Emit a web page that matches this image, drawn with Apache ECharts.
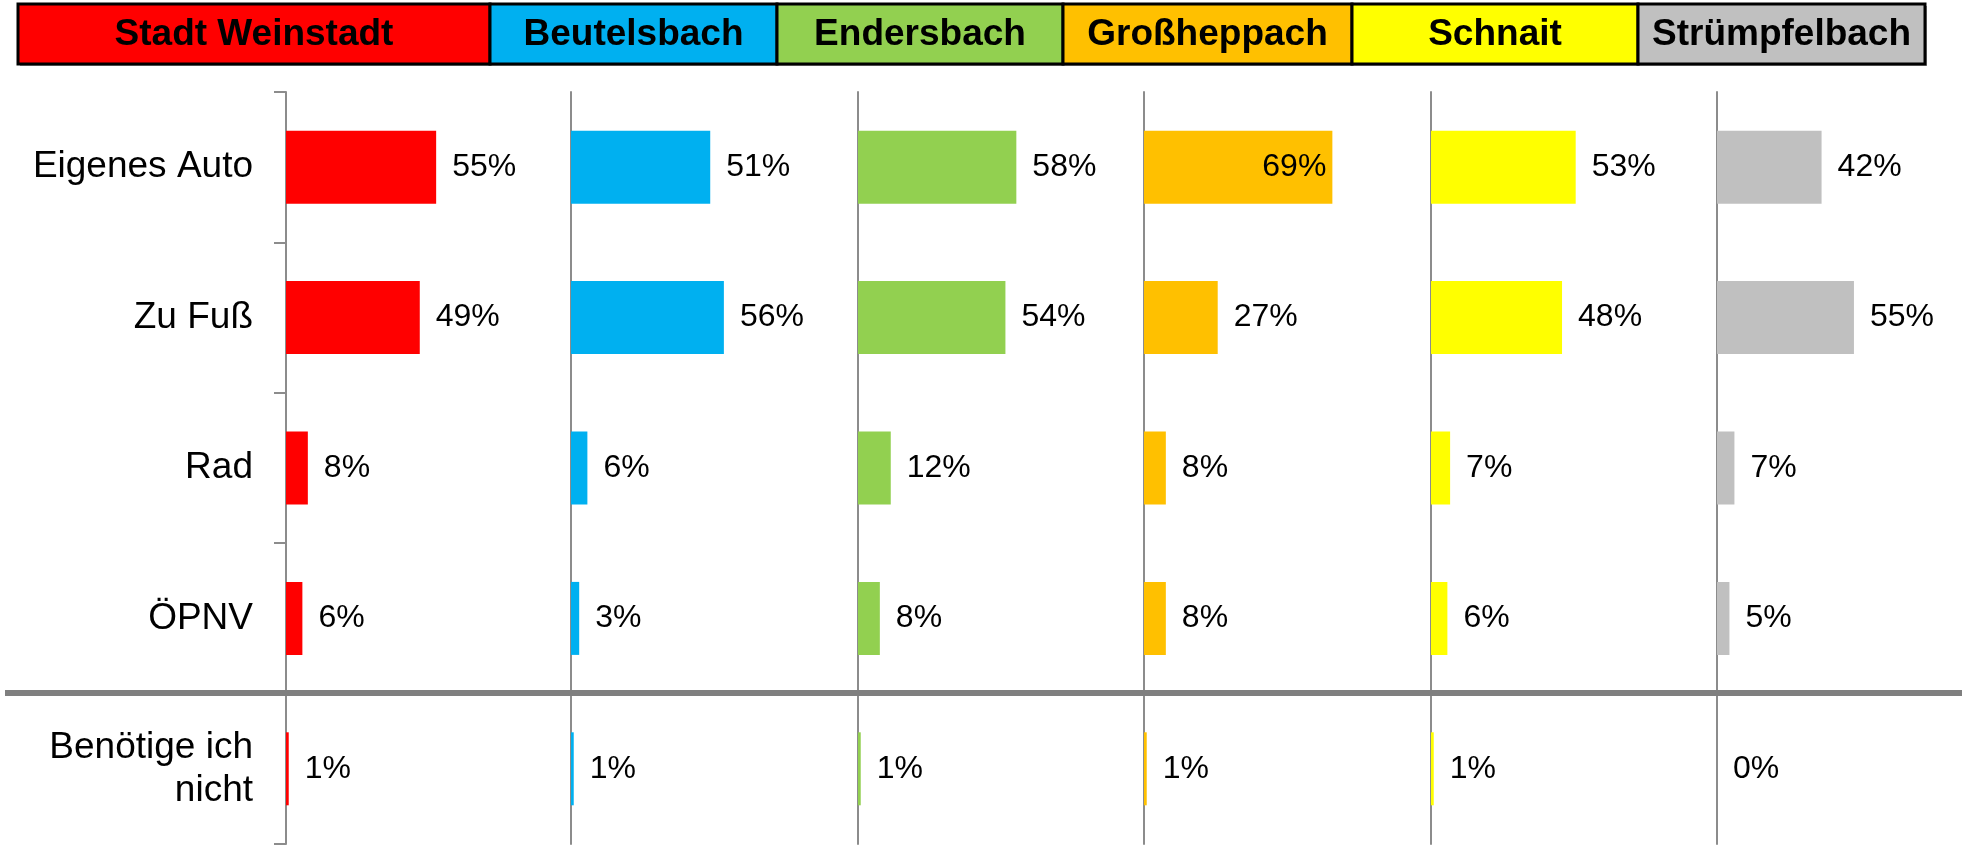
<!DOCTYPE html>
<html>
<head>
<meta charset="utf-8">
<title>Verkehrsmittel nach Ortsteil</title>
<script src="https://cdn.jsdelivr.net/npm/echarts@6/dist/echarts.min.js"></script>
<style>
    html, body { margin: 0; padding: 0; background: #fff; }
    #chart { width: 1966px; height: 847px; }
</style>
</head>
<body>
<div id="chart"></div>
<script>
// categories, top to bottom
const modes = ['Eigenes Auto', 'Zu Fuß', 'Rad', 'ÖPNV', 'Benötige ich\nnicht'];

// one panel per district
const districts = ['Stadt Weinstadt', 'Beutelsbach', 'Endersbach', 'Großheppach', 'Schnait', 'Strümpfelbach'];
const colors = ['#FF0000', '#00B0F0', '#92D050', '#FFC000', '#FFFF00', '#C0C0C0'];

const weinstadt = [55, 49, 8, 6, 1];
const beutelsbach = [51, 56, 6, 3, 1];
const endersbach = [58, 54, 12, 8, 1];
const grossheppach = [69, 27, 8, 8, 1];
const schnait = [53, 48, 7, 6, 1];
const struempfelbach = [42, 55, 7, 5, 0];

const values = [weinstadt, beutelsbach, endersbach, grossheppach, schnait, struempfelbach];

const FONT = '"Liberation Sans", Arial, sans-serif';
const axisGray = '#8c8c8c';

// layout
const panelLeft = [286, 571, 858, 1144, 1431, 1717];
const panelWidth = 273;
const plotTop = 92;
const plotHeight = 752;
const headerEdges = [18, 490, 777, 1063, 1352, 1638, 1925];
const headerTop = 4, headerHeight = 60;

const chart = echarts.init(document.getElementById('chart'));

const grids = [], xAxes = [], yAxes = [], series = [];
districts.forEach(function (name, i) {
    grids.push({ left: panelLeft[i], top: plotTop, width: panelWidth, height: plotHeight });
    xAxes.push({
        type: 'value', gridIndex: i, min: 0, max: 100, show: false
    });
    yAxes.push({
        type: 'category', gridIndex: i, data: modes, inverse: true,
        axisLine: { show: true, lineStyle: { color: axisGray, width: 2 } },
        axisTick: { show: i === 0, length: 12, lineStyle: { color: axisGray, width: 2 } },
        axisLabel: {
            show: i === 0, margin: 33, color: '#000', fontSize: 37,
            fontFamily: FONT, lineHeight: 43, align: 'right'
        },
        splitLine: { show: false }
    });
    series.push({
        type: 'bar', name: name, xAxisIndex: i, yAxisIndex: i,
        barWidth: 73,
        itemStyle: { color: colors[i] },
        label: {
            show: true, position: 'right', distance: 16, color: '#000',
            fontSize: 32, fontFamily: FONT, formatter: '{c}%'
        },
        data: values[i].map(function (v) {
            if (v >= 65) {
                return { value: v, label: { position: 'insideRight', distance: 6 } };
            }
            return v;
        })
    });
});

// header boxes with district names
const graphics = [];
districts.forEach(function (name, i) {
    const x0 = headerEdges[i], x1 = headerEdges[i + 1];
    graphics.push({
        type: 'rect', z: 1,
        shape: { x: x0 + 2, y: headerTop + 2, width: x1 - x0, height: headerHeight },
        style: { fill: '#9a9a9a' }
    });
    graphics.push({
        type: 'rect', z: 2,
        shape: { x: x0, y: headerTop, width: x1 - x0, height: headerHeight },
        style: { fill: colors[i], stroke: '#000', lineWidth: 3 }
    });
    graphics.push({
        type: 'text', z: 3,
        style: {
            text: name, x: (x0 + x1) / 2, y: headerTop + headerHeight / 2 + 1,
            textAlign: 'center', textVerticalAlign: 'middle',
            font: 'bold 37px ' + FONT, fill: '#000'
        }
    });
});
// separator above the last category
graphics.push({
    type: 'line', z: 5,
    shape: { x1: 5, y1: 693, x2: 1962, y2: 693 },
    style: { stroke: '#7f7f7f', lineWidth: 6 }
});

chart.setOption({
    animation: false,
    backgroundColor: '#fff',
    grid: grids,
    xAxis: xAxes,
    yAxis: yAxes,
    series: series,
    graphic: graphics
});
</script>
</body>
</html>
